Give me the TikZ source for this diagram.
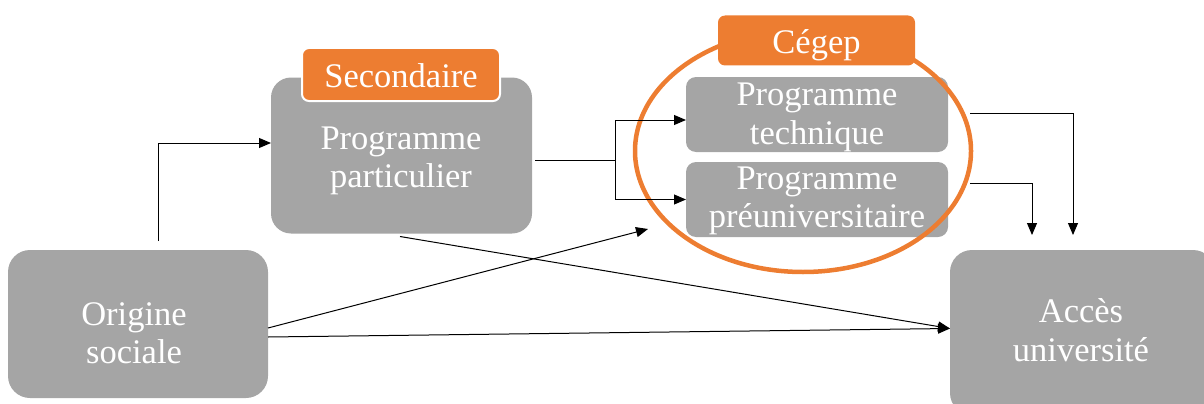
\documentclass[tikz,border=0pt]{standalone}
\usepackage{fontspec}
\setmainfont{Liberation Serif}
\usetikzlibrary{arrows.meta}
\definecolor{boxgrey}{HTML}{A5A5A5}
\definecolor{tagorange}{HTML}{ED7D31}
\tikzset{
  greybox/.style={fill=boxgrey, draw=none, inner sep=0pt, outer sep=0pt},
  tagbox/.style={fill=tagorange, draw=white, line width=2pt, inner sep=0pt, outer sep=0pt, rounded corners=7pt},
  lbl/.style={text=white, align=center, inner sep=0pt, font=\fontsize{34.5}{38.5}\selectfont},
  arr/.style={draw=black, line width=1pt, -{Triangle[length=12pt,width=10pt]}},
  ln/.style={draw=black, line width=1pt}
}
\begin{document}
\begin{tikzpicture}[x=1pt,y=-1pt]
\useasboundingbox (0,0) rectangle (1204,404);
% grey boxes
\node[greybox, rounded corners=22pt, minimum width=260pt, minimum height=148pt] (ori) at (138,324) {};
\node[greybox, rounded corners=20pt, minimum width=261pt, minimum height=156pt] (sec) at (401.5,155.5) {};
\node[greybox, rounded corners=10pt, minimum width=262pt, minimum height=75pt] (tech) at (817,114.5) {};
\node[greybox, rounded corners=10pt, minimum width=262pt, minimum height=75pt] (preu) at (817,199.5) {};
\node[greybox, rounded corners=22pt, minimum width=265pt, minimum height=165pt] (acc) at (1082.5,332.5) {};
% texts
\node[lbl] (oritxt) at (134,333) {Origine\\sociale};
\node[lbl] (sectxt) at (401,161) {Programme\\particulier};
\node[lbl] (techtxt) at (817,117.5) {Programme\\technique};
\node[lbl] (preutxt) at (817,201) {Programme\\préuniversitaire};
\node[lbl] (acctxt) at (1081,330) {Accès\\université};
% cegep zone
\draw[draw=tagorange, line width=4.5pt] (803,151) ellipse [x radius=168pt, y radius=121pt];
% tags
\node[tagbox, minimum width=198pt, minimum height=53pt] (sectag) at (401,74.5) {};
\node[lbl, anchor=base] (sectagtxt) at (401,87) {Secondaire};
\node[tagbox, draw=none, minimum width=197pt, minimum height=50pt] (cegtag) at (816.5,40.5) {};
\node[lbl, anchor=base] (cegtagtxt) at (816.5,53) {Cégep};
% connectors
\coordinate (br) at (615,160);
\coordinate (zonein) at (648,229);
\draw[arr] ([xshift=20pt,yshift=9pt]ori.north) |- ([yshift=12.5pt]sec.west);
\draw[ln] ([xshift=3pt,yshift=-4.5pt]sec.east) -- (br);
\draw[arr] (br) |- ([yshift=-5.5pt]tech.west);
\draw[arr] (br) |- (preu.west);
\draw[arr] ([xshift=22pt,yshift=1.5pt]tech.east) -| ([xshift=-9.5pt,yshift=15pt]acc.north);
\draw[arr] ([xshift=22pt,yshift=16.5pt]preu.east) -| ([xshift=-50.5pt,yshift=15pt]acc.north);
\draw[arr] ([xshift=-1.5pt,yshift=-3pt]sec.south) -- ([yshift=4pt]acc.west);
\draw[arr] ([yshift=-4pt]ori.east) -- (zonein);
\draw[arr] ([yshift=-13pt]ori.east) -- ([yshift=4pt]acc.west);
\end{tikzpicture}
\end{document}
